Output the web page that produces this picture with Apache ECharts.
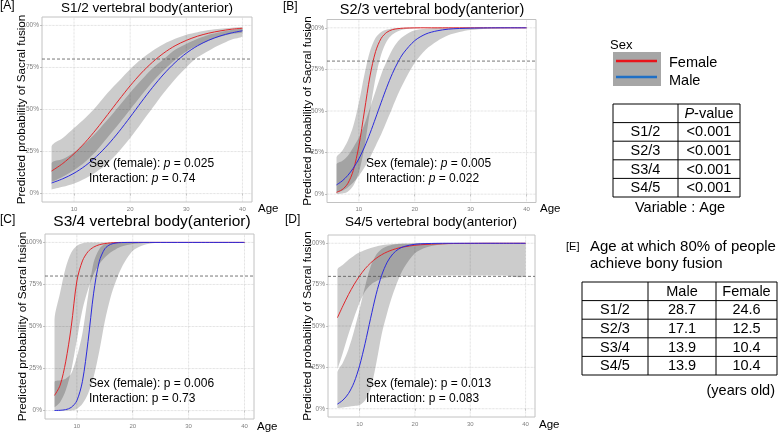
<!DOCTYPE html>
<html>
<head>
<meta charset="utf-8">
<script src="https://cdn.jsdelivr.net/npm/echarts@6.0.0/dist/echarts.min.js"></script>
<style>
  html, body { margin: 0; padding: 0; background: #fff; }
  #chart { width: 778px; height: 436px; }
</style>
</head>
<body>
<div id="chart"></div>
<script>
// ---- data ----
var xTicks = [10, 20, 30, 40];
var yTicks = [0, 0.25, 0.5, 0.75, 1];
var cutoff = 0.8;

var ageA = [6, 8, 10, 12, 14, 16, 18, 20, 22, 24, 26, 28, 30, 32, 34, 36, 38, 40];
var femaleA   = [0.134, 0.179, 0.237, 0.305, 0.384, 0.470, 0.557, 0.641, 0.717, 0.782, 0.836, 0.879, 0.911, 0.936, 0.954, 0.967, 0.977, 0.983];
var femaleALo = [0.07, 0.10, 0.14, 0.19, 0.255, 0.335, 0.415, 0.50, 0.585, 0.665, 0.735, 0.795, 0.845, 0.88, 0.91, 0.932, 0.95, 0.96];
var femaleAHi = [0.28, 0.33, 0.39, 0.45, 0.52, 0.60, 0.67, 0.74, 0.80, 0.85, 0.89, 0.92, 0.945, 0.96, 0.972, 0.98, 0.986, 0.99];
var maleA     = [0.063, 0.088, 0.121, 0.165, 0.221, 0.289, 0.368, 0.455, 0.545, 0.632, 0.711, 0.779, 0.835, 0.879, 0.912, 0.937, 0.955, 0.968];
var maleALo   = [0.025, 0.04, 0.06, 0.09, 0.13, 0.18, 0.25, 0.33, 0.42, 0.51, 0.60, 0.68, 0.75, 0.81, 0.85, 0.885, 0.915, 0.935];
var maleAHi   = [0.18, 0.205, 0.245, 0.30, 0.365, 0.44, 0.52, 0.60, 0.675, 0.745, 0.80, 0.855, 0.89, 0.92, 0.945, 0.96, 0.972, 0.98];

var ageBCD = [6, 7, 8, 9, 10, 11, 12, 13, 14, 15, 16, 17, 18, 20, 22, 24, 26, 28, 30, 33, 36, 40];

var femaleB   = [0.011, 0.027, 0.063, 0.142, 0.289, 0.50, 0.711, 0.858, 0.937, 0.973, 0.989, 0.995, 0.998, 0.9997, 1, 1, 1, 1, 1, 1, 1, 1];
var femaleBLo = [0.001, 0.004, 0.015, 0.05, 0.13, 0.28, 0.50, 0.70, 0.84, 0.92, 0.96, 0.98, 0.99, 0.997, 0.999, 1, 1, 1, 1, 1, 1, 1];
var femaleBHi = [0.22, 0.26, 0.32, 0.41, 0.55, 0.72, 0.86, 0.94, 0.975, 0.99, 0.996, 0.998, 0.999, 1, 1, 1, 1, 1, 1, 1, 1, 1];
var maleB     = [0.056, 0.079, 0.112, 0.156, 0.212, 0.283, 0.366, 0.458, 0.552, 0.643, 0.725, 0.794, 0.849, 0.923, 0.963, 0.982, 0.992, 0.996, 0.998, 0.9995, 1, 1];
var maleBLo   = [0.01, 0.02, 0.04, 0.07, 0.11, 0.16, 0.22, 0.29, 0.36, 0.44, 0.52, 0.60, 0.67, 0.79, 0.87, 0.92, 0.955, 0.975, 0.987, 0.995, 0.998, 1];
var maleBHi   = [0.18, 0.20, 0.23, 0.28, 0.34, 0.42, 0.52, 0.62, 0.72, 0.80, 0.87, 0.92, 0.95, 0.985, 0.995, 0.999, 1, 1, 1, 1, 1, 1];

var femaleC   = [0.09, 0.15, 0.29, 0.50, 0.77, 0.89, 0.945, 0.972, 0.986, 0.993, 0.997, 0.999, 1, 1, 1, 1, 1, 1, 1, 1, 1, 1];
var femaleCLo = [0.02, 0.05, 0.12, 0.24, 0.42, 0.60, 0.72, 0.81, 0.87, 0.91, 0.94, 0.96, 0.975, 0.99, 0.997, 1, 1, 1, 1, 1, 1, 1];
var femaleCHi = [0.54, 0.70, 0.85, 0.94, 0.98, 0.995, 0.999, 1, 1, 1, 1, 1, 1, 1, 1, 1, 1, 1, 1, 1, 1, 1];
var maleC     = [0.0005, 0.0017, 0.0057, 0.019, 0.059, 0.174, 0.411, 0.698, 0.885, 0.962, 0.988, 0.9965, 0.999, 1, 1, 1, 1, 1, 1, 1, 1, 1];
var maleCLo   = [0, 0, 0, 0.001, 0.01, 0.04, 0.10, 0.20, 0.35, 0.53, 0.67, 0.77, 0.85, 0.95, 0.985, 0.996, 1, 1, 1, 1, 1, 1];
var maleCHi   = [0.17, 0.18, 0.19, 0.22, 0.32, 0.46, 0.68, 0.88, 0.96, 0.99, 0.997, 1, 1, 1, 1, 1, 1, 1, 1, 1, 1, 1];

var femaleD   = [0.550, 0.622, 0.690, 0.750, 0.802, 0.846, 0.881, 0.909, 0.931, 0.948, 0.961, 0.971, 0.978, 0.988, 0.993, 0.996, 0.998, 0.999, 0.9993, 1, 1, 1];
var femaleDLo = [0.24, 0.34, 0.45, 0.55, 0.64, 0.71, 0.75, 0.77, 0.785, 0.793, 0.797, 0.799, 0.80, 0.802, 0.803, 0.804, 0.805, 0.805, 0.805, 0.805, 0.805, 0.805];
var femaleDHi = [0.84, 0.87, 0.90, 0.925, 0.945, 0.96, 0.972, 0.981, 0.988, 0.992, 0.995, 0.997, 0.998, 0.999, 1, 1, 1, 1, 1, 1, 1, 1];
var maleD     = [0.028, 0.052, 0.092, 0.158, 0.259, 0.394, 0.547, 0.692, 0.807, 0.886, 0.935, 0.964, 0.980, 0.994, 0.998, 0.9995, 1, 1, 1, 1, 1, 1];
var maleDLo   = [0.005, 0.008, 0.012, 0.016, 0.022, 0.05, 0.12, 0.27, 0.45, 0.58, 0.69, 0.78, 0.85, 0.94, 0.975, 0.99, 0.996, 0.999, 1, 1, 1, 1];
var maleDHi   = [0.22, 0.28, 0.36, 0.47, 0.60, 0.74, 0.86, 0.93, 0.965, 0.982, 0.991, 0.995, 0.997, 0.999, 1, 1, 1, 1, 1, 1, 1, 1];

var segments = ['S1/2', 'S2/3', 'S3/4', 'S4/5'];
var ageP = ['<0.001', '<0.001', '<0.001', '<0.001'];
var age80Male = ['28.7', '17.1', '13.9', '13.9'];
var age80Female = ['24.6', '12.5', '10.4', '10.4'];
var sexP = ['0.025', '0.005', '0.006', '0.013'];
var interP = ['0.74', '0.022', '0.73', '0.083'];

// ---- layout ----
var FONT = '"Liberation Sans", Arial, sans-serif';
var xMin = 4.3, xMax = 41.7, yMin = -0.05, yMax = 1.05;
var RED = '#e0262b', BLUE = '#2b2bdc';
var bandFill = 'rgba(0,0,0,0.2)';

var panels = [
  { key: 'A', ages: ageA, f: femaleA, fLo: femaleALo, fHi: femaleAHi, m: maleA, mLo: maleALo, mHi: maleAHi,
    grid: { left: 42, top: 17, width: 210, height: 185 }, italicP: true, titleSize: 13.5,
    titleX: 147, titleY: 8.5, labelX: 0, labelY: 6, yTitleX: 22, ageX: 258, ageY: 209, noteX: 89, noteY: 164 },
  { key: 'B', ages: ageBCD, f: femaleB, fLo: femaleBLo, fHi: femaleBHi, m: maleB, mLo: maleBLo, mHi: maleBHi,
    grid: { left: 327, top: 19.5, width: 209, height: 183 }, italicP: true, titleSize: 14.5,
    titleX: 432, titleY: 9.5, labelX: 283, labelY: 7, yTitleX: 307.5, ageX: 540, ageY: 209, noteX: 366, noteY: 164 },
  { key: 'C', ages: ageBCD, f: femaleC, fLo: femaleCLo, fHi: femaleCHi, m: maleC, mLo: maleCLo, mHi: maleCHi,
    grid: { left: 45, top: 234, width: 209, height: 185 }, italicP: false, titleSize: 15.5,
    titleX: 152, titleY: 222, labelX: 0, labelY: 220, yTitleX: 22.5, ageX: 257, ageY: 427, noteX: 89, noteY: 384 },
  { key: 'D', ages: ageBCD, f: femaleD, fLo: femaleDLo, fHi: femaleDHi, m: maleD, mLo: maleDLo, mHi: maleDHi,
    grid: { left: 328, top: 235, width: 207, height: 182 }, italicP: false, titleSize: 13.5,
    titleX: 431, titleY: 222, labelX: 285, labelY: 220, yTitleX: 307.5, ageX: 539, ageY: 425, noteX: 366, noteY: 384 }
];

function pairs(xs, ys) { return xs.map(function (x, i) { return [x, ys[i]]; }); }

// one polygon per confidence ribbon, built through the axis scales
function ribbon(ages, lo, hi) {
  return function (params, api) {
    if (params.dataIndex !== 0) return null;
    var pts = [], j;
    for (j = 0; j < ages.length; j++) pts.push(api.coord([ages[j], hi[j]]));
    for (j = ages.length - 1; j >= 0; j--) pts.push(api.coord([ages[j], lo[j]]));
    var mn = [Infinity, Infinity], mx = [-Infinity, -Infinity];
    pts.forEach(function (q) {
      mn[0] = Math.min(mn[0], q[0]); mn[1] = Math.min(mn[1], q[1]);
      mx[0] = Math.max(mx[0], q[0]); mx[1] = Math.max(mx[1], q[1]);
    });
    return { type: 'polygon', shape: { points: pts, smooth: 0.3, smoothConstraint: [mn, mx] },
             style: { fill: bandFill } };
  };
}

var grids = [], xAxes = [], yAxes = [], series = [], graphics = [];

function txt(x, y, text, size, extra) {
  var st = { text: text, fontSize: size, fontFamily: FONT, fill: '#000',
             textAlign: 'left', textVerticalAlign: 'middle', align: 'left', verticalAlign: 'middle' };
  var el = { type: 'text', x: x, y: y, style: st, silent: true, z: 100 };
  if (extra) {
    for (var k in extra) {
      if (k === 'rotation') el.rotation = extra[k];
      else st[k] = extra[k];
    }
    if (extra.textAlign) st.align = extra.textAlign;
  }
  graphics.push(el);
}

panels.forEach(function (p, i) {
  grids.push({ left: p.grid.left, top: p.grid.top, width: p.grid.width, height: p.grid.height,
               show: true, borderColor: '#c2c2c2', borderWidth: 1, backgroundColor: '#fff', containLabel: false });
  xAxes.push({ type: 'value', gridIndex: i, min: xMin, max: xMax,
    axisLine: { show: false }, splitLine: { show: false },
    axisTick: { show: true, customValues: xTicks, length: 2, lineStyle: { color: '#9a9a9a', width: 0.6 } },
    axisLabel: { customValues: xTicks, fontSize: 6, color: '#7f7f7f', margin: 4, fontFamily: FONT } });
  yAxes.push({ type: 'value', gridIndex: i, min: yMin, max: yMax,
    axisLine: { show: false }, splitLine: { show: false },
    axisTick: { show: true, customValues: yTicks, length: 2, lineStyle: { color: '#9a9a9a', width: 0.6 } },
    axisLabel: { customValues: yTicks, fontSize: 6.5, color: '#7f7f7f', margin: 3, fontFamily: FONT,
                 formatter: function (v) { return Math.round(v * 100) + '%'; } } });

  var ax = { xAxisIndex: i, yAxisIndex: i };
  var gl = { type: 'dotted', color: '#c9c9c9', width: 0.7 };
  xTicks.forEach(function (t) {
    series.push(Object.assign({ type: 'line', data: [[t, yMin], [t, yMax]], symbol: 'none', silent: true,
      lineStyle: gl, z: 1 }, ax));
  });
  yTicks.forEach(function (t) {
    series.push(Object.assign({ type: 'line', data: [[xMin, t], [xMax, t]], symbol: 'none', silent: true,
      lineStyle: gl, z: 1 }, ax));
  });

  // confidence ribbons
  [[p.fLo, p.fHi], [p.mLo, p.mHi]].forEach(function (b) {
    series.push(Object.assign({ type: 'custom', silent: true, z: 2,
      data: p.ages.map(function (a, j) { return [a, b[0][j], b[1][j]]; }),
      encode: { x: 0, y: [1, 2] },
      renderItem: ribbon(p.ages, b[0], b[1]) }, ax));
  });

  series.push(Object.assign({ type: 'line', name: 'Female', data: pairs(p.ages, p.f), symbol: 'none', smooth: 0.3,
    silent: true, lineStyle: { color: RED, width: 1 }, z: 3 }, ax));
  series.push(Object.assign({ type: 'line', name: 'Male', data: pairs(p.ages, p.m), symbol: 'none', smooth: 0.3,
    silent: true, lineStyle: { color: BLUE, width: 1 }, z: 3 }, ax));

  series.push(Object.assign({ type: 'line', data: [[xMin, cutoff], [xMax, cutoff]], symbol: 'none', silent: true,
    lineStyle: { color: '#555', width: 0.8, type: [3, 2] }, z: 4 }, ax));

  // texts
  txt(p.labelX, p.labelY, '[' + p.key + ']', 12);
  txt(p.titleX, p.titleY, segments[i] + ' vertebral body(anterior)', p.titleSize, { textAlign: 'center' });
  txt(p.yTitleX, p.grid.top + p.grid.height / 2, 'Predicted probability of Sacral fusion', 11.7,
      { textAlign: 'center', rotation: Math.PI / 2 });
  txt(p.ageX, p.ageY, 'Age', 11.5);
  var pTxt = p.italicP ? '{i|p}' : 'p';
  var rich = { i: { fontStyle: 'italic', fontSize: 12, fontFamily: FONT } };
  txt(p.noteX, p.noteY, 'Sex (female): ' + pTxt + ' = ' + sexP[i], 12, { rich: rich });
  txt(p.noteX, p.noteY + 15, 'Interaction: ' + pTxt + ' = ' + interP[i], 12, { rich: rich });
});

// ---- legend ----
txt(610, 45, 'Sex', 13);
graphics.push({ type: 'rect', shape: { x: 613, y: 52, width: 48, height: 34 }, style: { fill: '#a6a6a6' }, silent: true });
graphics.push({ type: 'line', shape: { x1: 616, y1: 61, x2: 657, y2: 61 }, style: { stroke: '#e8141b', lineWidth: 2.5 }, silent: true });
graphics.push({ type: 'line', shape: { x1: 616, y1: 77, x2: 657, y2: 77 }, style: { stroke: '#1f6fc5', lineWidth: 2.5 }, silent: true });
txt(669, 63, 'Female', 14.5);
txt(669, 81, 'Male', 14.5);

// ---- tables ----
function table(colEdges, top, rowH, rows) {
  var right = colEdges[colEdges.length - 1];
  var bottom = top + rowH * rows.length;
  graphics.push({ type: 'rect', shape: { x: colEdges[0], y: top, width: right - colEdges[0], height: bottom - top },
                  style: { fill: 'none', stroke: '#000', lineWidth: 1 }, silent: true });
  for (var r = 1; r < rows.length; r++) {
    graphics.push({ type: 'line', shape: { x1: colEdges[0], y1: top + r * rowH, x2: right, y2: top + r * rowH },
                    style: { stroke: '#000', lineWidth: 1 }, silent: true });
  }
  for (var c = 1; c < colEdges.length - 1; c++) {
    graphics.push({ type: 'line', shape: { x1: colEdges[c], y1: top, x2: colEdges[c], y2: bottom },
                    style: { stroke: '#000', lineWidth: 1 }, silent: true });
  }
  rows.forEach(function (row, r) {
    row.forEach(function (cell, c) {
      if (!cell) return;
      txt((colEdges[c] + colEdges[c + 1]) / 2, top + r * rowH + rowH / 2 + 0.5, cell, 14.5,
          { textAlign: 'center', rich: { i: { fontStyle: 'italic', fontSize: 14.5, fontFamily: FONT } } });
    });
  });
}

var pRows = [['', '{i|P}-value']].concat(segments.map(function (s, i) { return [s, ageP[i]]; }));
table([613, 678, 740], 104, 18.6, pRows);
txt(680, 208, 'Variable : Age', 14.5, { textAlign: 'center' });

txt(566, 247, '[E]', 11);
txt(590, 247, 'Age at which 80% of people', 15);
txt(590, 264, 'achieve bony fusion', 15);
var eRows = [['', 'Male', 'Female']].concat(segments.map(function (s, i) { return [s, age80Male[i], age80Female[i]]; }));
table([582, 648, 716, 777], 282, 18.6, eRows);
txt(775, 391, '(years old)', 14.5, { textAlign: 'right' });

var chart = echarts.init(document.getElementById('chart'), null, { renderer: 'canvas' });
chart.setOption({
  animation: false,
  backgroundColor: '#fff',
  grid: grids,
  xAxis: xAxes,
  yAxis: yAxes,
  series: series,
  graphic: { elements: graphics }
});
</script>
</body>
</html>
